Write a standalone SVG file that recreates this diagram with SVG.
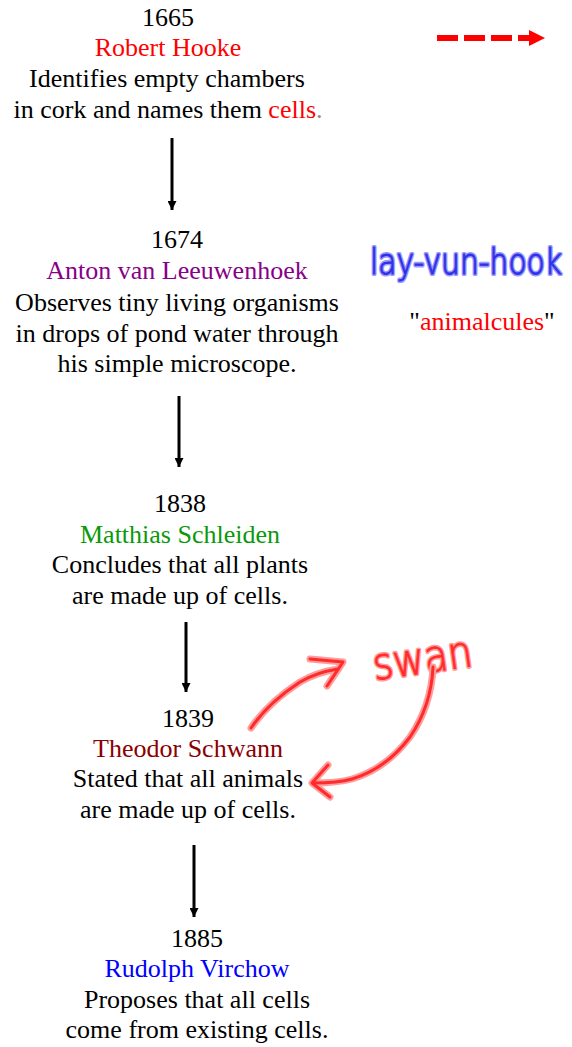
<svg xmlns="http://www.w3.org/2000/svg" width="572" height="1047" viewBox="0 0 572 1047">
<style>
  .t { font-size: 26px; fill: #000; text-anchor: middle; }
  .conn { stroke: #000; stroke-width: 3; fill: none; }
  .ink-halo { fill: none; stroke: #ff9c9c; stroke-width: 7; stroke-linecap: round; stroke-linejoin: round; }
  .ink { fill: none; stroke: #ff2a2a; stroke-width: 3; stroke-linecap: round; stroke-linejoin: round; }
  .hb-halo { fill: #9a9aff; stroke: #9a9aff; stroke-width: 3.5; stroke-linejoin: round; }
  .hb-ink { fill: #3030e6; stroke: #3030e6; stroke-width: 0.8; }
  .hr-halo { fill: #ff9c9c; stroke: #ff9c9c; stroke-width: 4; stroke-linejoin: round; }
  .hr-ink { fill: #ff2a2a; stroke: #ff2a2a; stroke-width: 0.8; }
</style>
<defs>
  <marker id="ah" viewBox="0 0 10 10" refX="10" refY="5" markerWidth="3" markerHeight="3" orient="auto" markerUnits="strokeWidth">
    <path d="M0,0 L10,5 L0,10 Z" fill="#000"/>
  </marker>
</defs>

<g font-family="'Liberation Serif', 'Times New Roman', Times, serif">
<g id="node-hooke">
  <text class="t" x="168" y="26">1665</text>
  <text class="t" x="168" y="56" style="fill:#ff0000">Robert Hooke</text>
  <text class="t" x="167" y="87">Identifies empty chambers</text>
  <text class="t" x="168" y="118">in cork and names them <tspan style="fill:#ff0000">cells</tspan><tspan style="fill:#888">.</tspan></text>
</g>

<g id="node-leeuwenhoek">
  <text class="t" x="177" y="248">1674</text>
  <text class="t" x="177" y="279" style="fill:#880088">Anton van Leeuwenhoek</text>
  <text class="t" x="177" y="311">Observes tiny living organisms</text>
  <text class="t" x="177" y="342">in drops of pond water through</text>
  <text class="t" x="177" y="372">his simple microscope.</text>
</g>

<g id="node-schleiden">
  <text class="t" x="180" y="512">1838</text>
  <text class="t" x="180" y="543" style="fill:#0a990a">Matthias Schleiden</text>
  <text class="t" x="180" y="573">Concludes that all plants</text>
  <text class="t" x="180" y="604">are made up of cells.</text>
</g>

<g id="node-schwann">
  <text class="t" x="188" y="727">1839</text>
  <text class="t" x="188" y="757" style="fill:#8b0000">Theodor Schwann</text>
  <text class="t" x="188" y="787">Stated that all animals</text>
  <text class="t" x="188" y="818">are made up of cells.</text>
</g>

<g id="node-virchow">
  <text class="t" x="197" y="947">1885</text>
  <text class="t" x="197" y="977" style="fill:#0000ff">Rudolph Virchow</text>
  <text class="t" x="197" y="1008">Proposes that all cells</text>
  <text class="t" x="197" y="1038">come from existing cells.</text>
</g>

<g id="note-animalcules">
  <text class="t" x="482" y="330">"<tspan style="fill:#ff0000">animalcules</tspan>"</text>
</g>
</g>

<g id="connectors">
  <line class="conn" x1="172" y1="138" x2="172" y2="210" marker-end="url(#ah)"/>
  <line class="conn" x1="179" y1="396" x2="179" y2="467" marker-end="url(#ah)"/>
  <line class="conn" x1="186" y1="622" x2="186" y2="692" marker-end="url(#ah)"/>
  <line class="conn" x1="194" y1="845" x2="194" y2="917" marker-end="url(#ah)"/>
</g>

<g id="legend-arrow">
  <line x1="437" y1="38" x2="531" y2="38" stroke="#ff0000" stroke-width="6" stroke-dasharray="21 6"/>
  <path d="M529,30 L545,38 L529,46 Z" fill="#ff0000"/>
</g>

<g id="note-pronunciation" font-family="'DejaVu Sans', sans-serif" font-weight="200" font-size="30">
  <g transform="translate(370 274) scale(1 1.2)">
    <text class="hb-halo" x="0" y="0" textLength="192" lengthAdjust="spacingAndGlyphs">lay-vun-hook</text>
    <text class="hb-ink" x="0" y="0" textLength="192" lengthAdjust="spacingAndGlyphs">lay-vun-hook</text>
  </g>
</g>

<g id="note-swan" font-family="'DejaVu Sans', sans-serif" font-weight="200" font-size="44">
  <g transform="rotate(-8 375 680)">
    <text class="hr-halo" x="375" y="680" textLength="100" lengthAdjust="spacingAndGlyphs">swan</text>
    <text class="hr-ink" x="375" y="680" textLength="100" lengthAdjust="spacingAndGlyphs">swan</text>
  </g>
  <path class="ink-halo" d="M251,728 C262,712 280,695 300,682 C312,675 325,671 338,669"/>
  <path class="ink-halo" d="M310,659 L343,662 L327,686"/>
  <path class="ink-halo" d="M433,667 C432,690 425,715 410,737 C395,757 375,772 352,779 C338,783 325,783 313,783"/>
  <path class="ink-halo" d="M328,765 L312,783 L330,797"/>
  <path class="ink" d="M251,728 C262,712 280,695 300,682 C312,675 325,671 338,669"/>
  <path class="ink" d="M310,659 L343,662 L327,686"/>
  <path class="ink" d="M433,667 C432,690 425,715 410,737 C395,757 375,772 352,779 C338,783 325,783 313,783"/>
  <path class="ink" d="M328,765 L312,783 L330,797"/>
</g>
</svg>
